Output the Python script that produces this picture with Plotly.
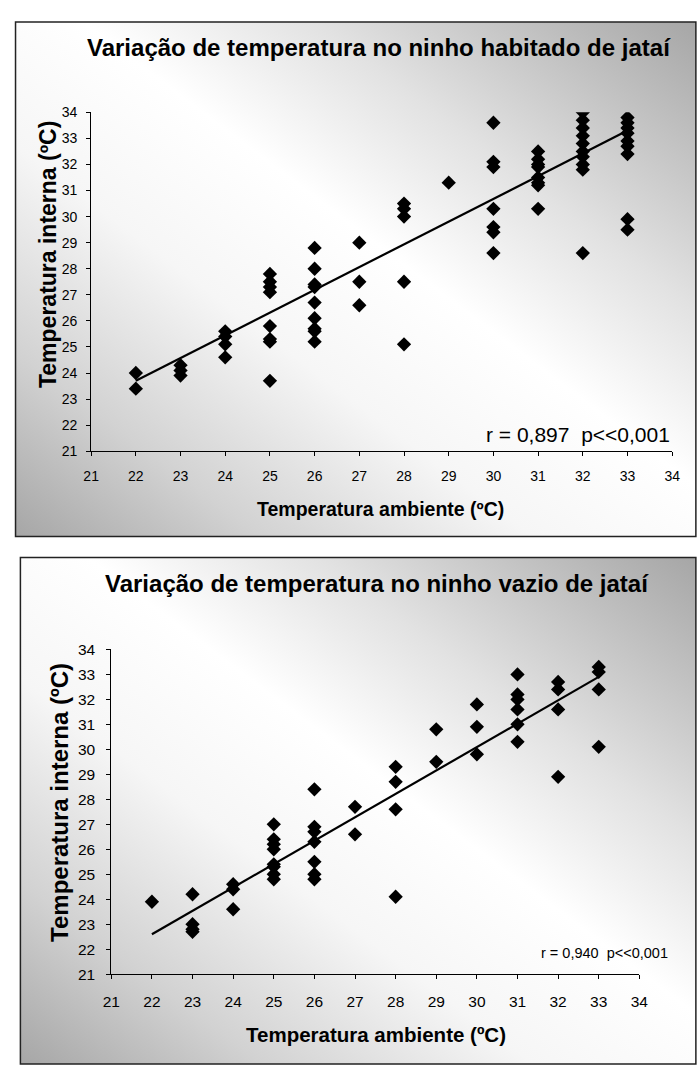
import base64
import plotly.graph_objects as go

# ---------------- data ----------------
# Top chart: ninho habitado
hab_x = [22, 22,
         23, 23, 23,
         24, 24, 24, 24,
         25, 25, 25, 25, 25, 25, 25, 25,
         26, 26, 26, 26, 26, 26, 26, 26, 26,
         27, 27, 27,
         28, 28, 28, 28, 28,
         29,
         30, 30, 30, 30, 30, 30, 30,
         31, 31, 31, 31, 31, 31, 31, 31,
         32, 32, 32, 32, 32, 32, 32, 32, 32, 32,
         33, 33, 33, 33, 33, 33, 33, 33, 33]
hab_y = [24.0, 23.4,
         24.3, 24.1, 23.9,
         25.6, 25.4, 25.1, 24.6,
         27.8, 27.5, 27.3, 27.1, 25.8, 25.3, 25.2, 23.7,
         28.8, 28.0, 27.4, 27.3, 26.7, 26.1, 25.7, 25.6, 25.2,
         29.0, 27.5, 26.6,
         30.5, 30.3, 30.0, 27.5, 25.1,
         31.3,
         33.6, 32.1, 31.9, 30.3, 29.6, 29.4, 28.6,
         32.5, 32.2, 32.0, 31.9, 31.5, 31.3, 31.2, 30.3,
         34.0, 33.7, 33.4, 33.1, 32.8, 32.5, 32.3, 32.0, 31.8, 28.6,
         33.8, 33.6, 33.4, 33.2, 32.9, 32.7, 32.4, 29.9, 29.5]
hab_trend_x = [22, 33]
hab_trend_y = [23.7, 33.3]
hab_title = "Variação de temperatura no ninho habitado de jataí"
hab_stats = "r = 0,897\u00a0 p<<0,001"

# Bottom chart: ninho vazio
vaz_x = [22,
         23, 23, 23, 23,
         24, 24, 24,
         25, 25, 25, 25, 25, 25, 25, 25,
         26, 26, 26, 26, 26, 26, 26,
         27, 27,
         28, 28, 28, 28,
         29, 29,
         30, 30, 30,
         31, 31, 31, 31, 31, 31,
         32, 32, 32, 32,
         33, 33, 33, 33]
vaz_y = [23.9,
         24.2, 23.0, 22.8, 22.7,
         24.6, 24.4, 23.6,
         27.0, 26.4, 26.2, 26.0, 25.4, 25.3, 25.0, 24.8,
         28.4, 26.9, 26.7, 26.3, 25.5, 25.0, 24.8,
         27.7, 26.6,
         29.3, 28.7, 27.6, 24.1,
         30.8, 29.5,
         31.8, 30.9, 29.8,
         33.0, 32.2, 32.0, 31.6, 31.0, 30.3,
         32.7, 32.4, 31.6, 28.9,
         33.3, 33.1, 32.4, 30.1]
vaz_trend_x = [22, 33]
vaz_trend_y = [22.6, 32.9]
vaz_title = "Variação de temperatura no ninho vazio de jataí"
vaz_stats = "r = 0,940\u00a0 p<<0,001"

tick_vals = list(range(21, 35))
x_title = "Temperatura ambiente (ºC)"
y_title = "Temperatura interna (ºC)"

# ---------------- figure ----------------
W, H = 700, 1076
FONT = "Liberation Sans, Arial, sans-serif"


def px(v):
    return v / W


def py(v):
    return 1 - v / H


fig = go.Figure()

marker = dict(symbol="diamond", size=11, color="black", line=dict(width=0))
fig.add_trace(go.Scatter(x=hab_x, y=hab_y, mode="markers", marker=marker,
                         xaxis="x", yaxis="y", showlegend=False))
fig.add_trace(go.Scatter(x=hab_trend_x, y=hab_trend_y, mode="lines",
                         line=dict(color="black", width=2.2),
                         xaxis="x", yaxis="y", showlegend=False))
fig.add_trace(go.Scatter(x=vaz_x, y=vaz_y, mode="markers", marker=marker,
                         xaxis="x2", yaxis="y2", showlegend=False))
fig.add_trace(go.Scatter(x=vaz_trend_x, y=vaz_trend_y, mode="lines",
                         line=dict(color="black", width=2.2),
                         xaxis="x2", yaxis="y2", showlegend=False))

axis_common = dict(range=[21, 34], tickmode="array", tickvals=tick_vals,
                   showgrid=False, zeroline=False, showline=True,
                   linecolor="black", linewidth=1, ticks="outside",
                   ticklen=4, tickwidth=1, tickcolor="black",
                   fixedrange=True)

fig.update_layout(
    width=W, height=H,
    margin=dict(l=0, r=0, t=0, b=0),
    paper_bgcolor="white",
    plot_bgcolor="rgba(0,0,0,0)",
    font=dict(family=FONT, color="black"),
    xaxis=dict(axis_common, domain=[px(84.3), px(680.7)], anchor="y",
               tickfont=dict(size=14, family=FONT), ticklabelstandoff=8),
    yaxis=dict(axis_common, domain=[py(449.3), py(105)], anchor="x",
               tickfont=dict(size=14, family=FONT), ticklabelstandoff=6),
    xaxis2=dict(axis_common, domain=[px(105), px(647)], anchor="y2",
                tickfont=dict(size=15.5, family=FONT), ticklabelstandoff=9),
    yaxis2=dict(axis_common, domain=[py(980.7), py(650.7)], anchor="x2",
                tickfont=dict(size=15.5, family=FONT), ticklabelstandoff=8),
)

# gradient background panels (SVG images)
svg = ('<svg xmlns="http://www.w3.org/2000/svg" width="100" height="100" '
       'viewBox="0 0 100 100" preserveAspectRatio="none"><defs>'
       '<linearGradient id="g" x1="1" y1="0" x2="0" y2="1">'
       '<stop offset="0" stop-color="#a6a6a6"/>'
       '<stop offset="0.28" stop-color="#e2e2e2"/>'
       '<stop offset="0.45" stop-color="#ffffff"/>'
       '<stop offset="0.62" stop-color="#f6f6f6"/>'
       '<stop offset="0.82" stop-color="#d2d2d2"/>'
       '<stop offset="1" stop-color="#a6a6a6"/>'
       '</linearGradient></defs>'
       '<rect width="100" height="100" fill="url(#g)"/></svg>')
src = "data:image/svg+xml;base64," + base64.b64encode(svg.encode()).decode()

panels = [(6.7, 13.3, 705, 536), (11.7, 557.3, 705, 1072)]
images = []
shapes = []
for (x0, y0, x1, y1) in panels:
    images.append(dict(source=src, xref="paper", yref="paper",
                       x=px(x0), y=py(y0), sizex=px(x1) - px(x0),
                       sizey=py(y0) - py(y1), xanchor="left", yanchor="top",
                       sizing="stretch", layer="below"))
    shapes.append(dict(type="rect", xref="paper", yref="paper",
                       x0=px(x0), x1=px(x1), y0=py(y1), y1=py(y0),
                       line=dict(color="#222222", width=1.5),
                       fillcolor="rgba(0,0,0,0)", layer="above"))
fig.update_layout(images=images, shapes=shapes)

ann = []
# titles
ann.append(dict(text=f"<b>{hab_title}</b>", x=px(380), y=py(39),
                font=dict(size=24, family=FONT)))
ann.append(dict(text=f"<b>{vaz_title}</b>", x=px(378), y=py(584),
                font=dict(size=24, family=FONT)))
# x titles
ann.append(dict(text=f"<b>{x_title}</b>", x=px(381), y=py(508),
                font=dict(size=19.5, family=FONT)))
ann.append(dict(text=f"<b>{x_title}</b>", x=px(377), y=py(1042),
                font=dict(size=20.5, family=FONT)))
# y titles
ann.append(dict(text=f"<b>{y_title}</b>", x=px(40), y=py(249), textangle=-90,
                font=dict(size=23, family=FONT)))
ann.append(dict(text=f"<b>{y_title}</b>", x=px(52), y=py(806), textangle=-90,
                font=dict(size=24, family=FONT)))
# stats
ann.append(dict(text=hab_stats, x=px(681), y=py(432), xanchor="right",
                font=dict(size=21, family=FONT)))
ann.append(dict(text=vaz_stats, x=px(678), y=py(959), xanchor="right",
                font=dict(size=14.5, family=FONT)))
for a in ann:
    a.setdefault("xanchor", "center")
    a.update(xref="paper", yref="paper", yanchor="middle", showarrow=False)
fig.update_layout(annotations=ann)

fig.write_html(
    "out.html",
    config={"displayModeBar": False},
    post_script="document.body.style.margin='0';"
                "document.body.style.padding='0';"
                "document.body.style.overflow='hidden';",
)
